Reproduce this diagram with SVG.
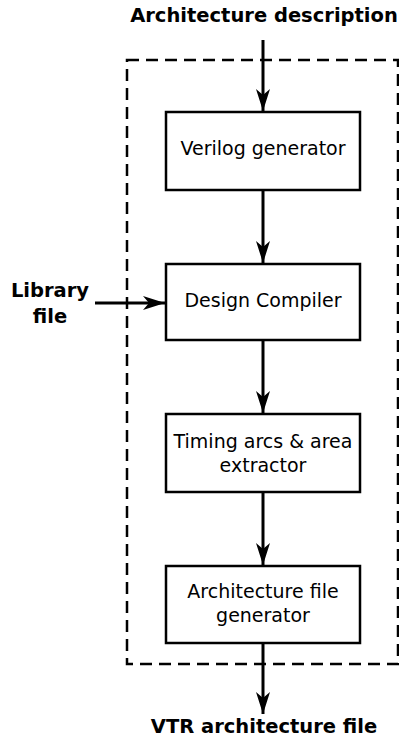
<svg xmlns="http://www.w3.org/2000/svg" width="399" height="740" viewBox="0 0 399 740">
<style>
.box{fill:#fff;stroke:#000;stroke-width:2.5}
.t{font-family:"DejaVu Sans",sans-serif;font-size:19px;text-anchor:middle;fill:#000}
.b{font-family:"DejaVu Sans",sans-serif;font-size:19.5px;font-weight:bold;text-anchor:middle;fill:#000}
.c{stroke:#000;stroke-width:3;fill:none}
</style>
<defs>
<marker id="ah" viewBox="0 0 22 14" refX="22" refY="7" markerWidth="22" markerHeight="14" markerUnits="userSpaceOnUse" orient="auto">
<path d="M0,0 L22,7 L0,14 L6,7 Z" fill="#000"/>
</marker>
</defs>
<rect x="127" y="60" width="271" height="604" fill="none" stroke="#000" stroke-width="2.5" stroke-dasharray="12,7"/>
<g id="connectors">
<line class="c" x1="263" y1="40" x2="263" y2="111" marker-end="url(#ah)"/>
<line class="c" x1="263" y1="190" x2="263" y2="263" marker-end="url(#ah)"/>
<line class="c" x1="263" y1="340" x2="263" y2="413" marker-end="url(#ah)"/>
<line class="c" x1="263" y1="492" x2="263" y2="565" marker-end="url(#ah)"/>
<line class="c" x1="263" y1="643" x2="263" y2="714" marker-end="url(#ah)"/>
<line class="c" x1="95" y1="303" x2="165" y2="303" marker-end="url(#ah)"/>
</g>
<g id="arch-desc"><text class="b" x="264" y="22">Architecture description</text></g>
<g id="verilog"><rect class="box" x="166" y="112" width="194" height="78"/><text class="t" x="263" y="155">Verilog generator</text></g>
<g id="library"><text class="b" x="50" y="297">Library</text><text class="b" x="50" y="323">file</text></g>
<g id="dc"><rect class="box" x="166" y="264" width="194" height="76"/><text class="t" x="263" y="307">Design Compiler</text></g>
<g id="timing"><rect class="box" x="166" y="414" width="194" height="78"/><text class="t" x="263" y="448">Timing arcs &amp; area</text><text class="t" x="263" y="472">extractor</text></g>
<g id="archgen"><rect class="box" x="166" y="566" width="194" height="77"/><text class="t" x="263" y="598">Architecture file</text><text class="t" x="263" y="622">generator</text></g>
<g id="vtr"><text class="b" x="264" y="733">VTR architecture file</text></g>
</svg>
